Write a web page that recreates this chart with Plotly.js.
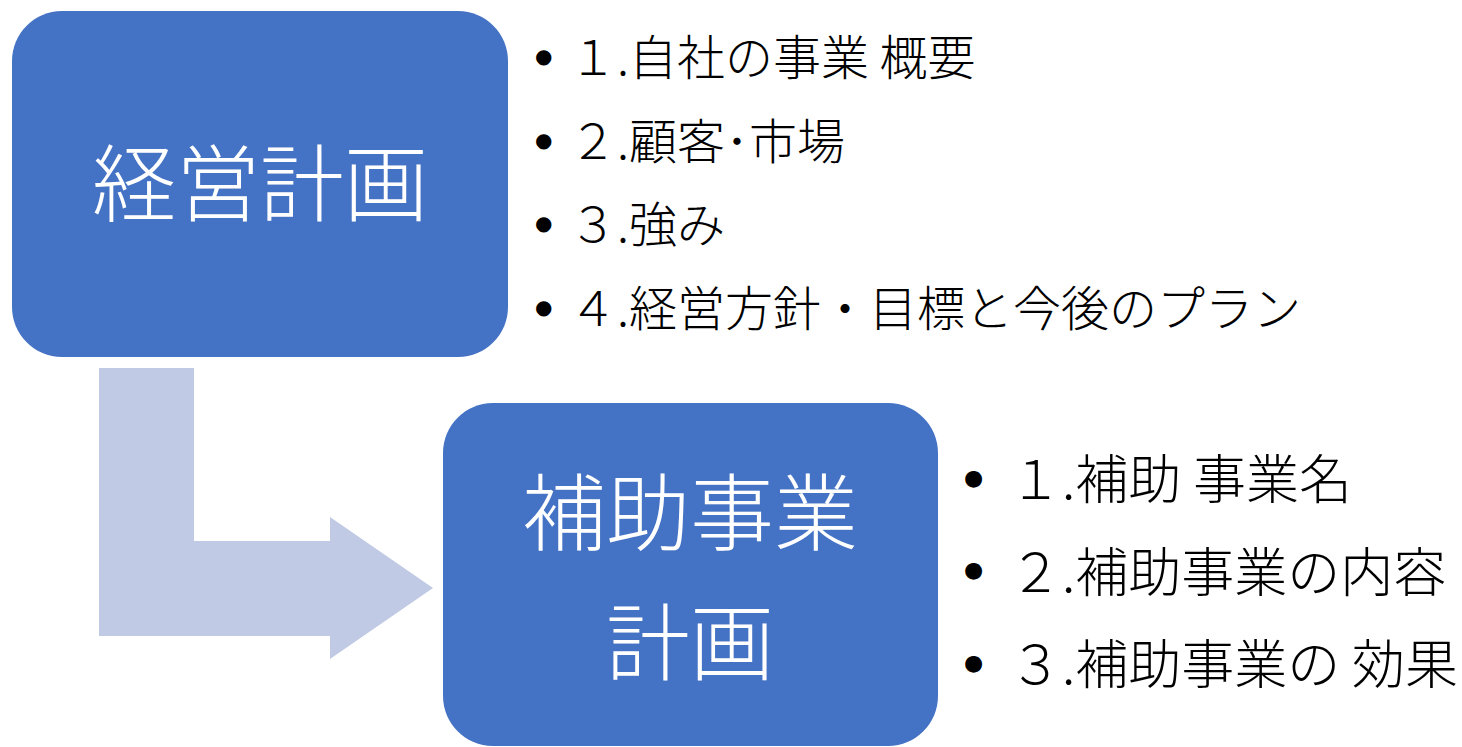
<!DOCTYPE html>
<html>
<head>
<meta charset="utf-8">
<script src="https://cdn.plot.ly/plotly-3.0.1.min.js"></script>
<style>html,body{margin:0;padding:0;background:#fff;}#chart{width:1462px;height:747px;}</style>
</head>
<body>
<div id="chart"></div>
<script>
// ---- content ----
var boxTitle1 = ["経営計画"];
var boxTitle2 = ["補助事業", "計画"];
var planItems = ["１.自社の事業 概要", "２.顧客･市場", "３.強み", "４.経営方針・目標と今後のプラン"];
var subsidyItems = ["１.補助 事業名", "２.補助事業の内容", "３.補助事業の 効果"];

// ---- styling / layout constants ----
var W = 1462, H = 747;
var BLUE = "#4472C4", ARROW = "#C0CAE4";
var FONT = "Noto Sans CJK JP, Noto Sans, sans-serif";

function roundRect(x0, y0, x1, y1, r) {
  var k = 0.5523 * r;
  return "M" + (x0 + r) + "," + y0 +
    " L" + (x1 - r) + "," + y0 +
    " C" + (x1 - r + k) + "," + y0 + " " + x1 + "," + (y0 + r - k) + " " + x1 + "," + (y0 + r) +
    " L" + x1 + "," + (y1 - r) +
    " C" + x1 + "," + (y1 - r + k) + " " + (x1 - r + k) + "," + y1 + " " + (x1 - r) + "," + y1 +
    " L" + (x0 + r) + "," + y1 +
    " C" + (x0 + r - k) + "," + y1 + " " + x0 + "," + (y1 - r + k) + " " + x0 + "," + (y1 - r) +
    " L" + x0 + "," + (y0 + r) +
    " C" + x0 + "," + (y0 + r - k) + " " + (x0 + r - k) + "," + y0 + " " + (x0 + r) + "," + y0 + " Z";
}

var box1 = {x0: 12, y0: 11, x1: 508, y1: 357, r: 50};
var box2 = {x0: 443, y0: 403, x1: 938, y1: 746, r: 50};

var arrowPts = [[99,368],[194,368],[194,541],[330,541],[330,517],[433,588],[330,659],[330,636],[99,636]];
var arrowPath = "M" + arrowPts.map(function(p){return p[0] + "," + p[1];}).join(" L") + " Z";

var shapes = [
  {type: "path", path: arrowPath, xref: "x", yref: "y", fillcolor: ARROW, line: {width: 0}, layer: "below"},
  {type: "path", path: roundRect(box1.x0, box1.y0, box1.x1, box1.y1, box1.r), xref: "x", yref: "y", fillcolor: BLUE, line: {width: 0}, layer: "below"},
  {type: "path", path: roundRect(box2.x0, box2.y0, box2.x1, box2.y1, box2.r), xref: "x", yref: "y", fillcolor: BLUE, line: {width: 0}, layer: "below"}
];

var annotations = [];
boxTitle1.forEach(function(t, i) {
  annotations.push({x: 260, y: 178 + i * 130, xref: "x", yref: "y", text: t, showarrow: false,
    xanchor: "center", yanchor: "middle", font: {family: FONT, size: 84, color: "#ffffff", weight: 300}});
});
boxTitle2.forEach(function(t, i) {
  annotations.push({x: 690, y: 507 + i * 130, xref: "x", yref: "y", text: t, showarrow: false,
    xanchor: "center", yanchor: "middle", font: {family: FONT, size: 84, color: "#ffffff", weight: 300}});
});
planItems.forEach(function(t, i) {
  var y = 54 + i * 83.5;
  annotations.push({x: 543, y: y + 2, xref: "x", yref: "y", text: "●", showarrow: false,
    xanchor: "center", yanchor: "middle", font: {family: "DejaVu Sans", size: 20, color: "#000"}});
  annotations.push({x: 567, y: y, xref: "x", yref: "y", text: t, showarrow: false,
    xanchor: "left", yanchor: "middle", font: {family: FONT, size: 48, color: "#000", weight: 300}});
});
subsidyItems.forEach(function(t, i) {
  var y = 476 + i * 92.5;
  annotations.push({x: 973, y: y + 1, xref: "x", yref: "y", text: "●", showarrow: false,
    xanchor: "center", yanchor: "middle", font: {family: "DejaVu Sans", size: 22, color: "#000"}});
  annotations.push({x: 1007, y: y, xref: "x", yref: "y", text: t, showarrow: false,
    xanchor: "left", yanchor: "middle", font: {family: FONT, size: 53, color: "#000", weight: 300}});
});

var layout = {
  width: W, height: H,
  margin: {l: 0, r: 0, t: 0, b: 0, pad: 0},
  paper_bgcolor: "#ffffff", plot_bgcolor: "#ffffff",
  showlegend: false,
  xaxis: {range: [0, W], visible: false, fixedrange: true},
  yaxis: {range: [H, 0], visible: false, fixedrange: true},
  shapes: shapes,
  annotations: annotations
};

Plotly.newPlot("chart", [{x: [], y: [], type: "scatter", hoverinfo: "skip"}], layout, {displayModeBar: false, staticPlot: true});
</script>
</body>
</html>
